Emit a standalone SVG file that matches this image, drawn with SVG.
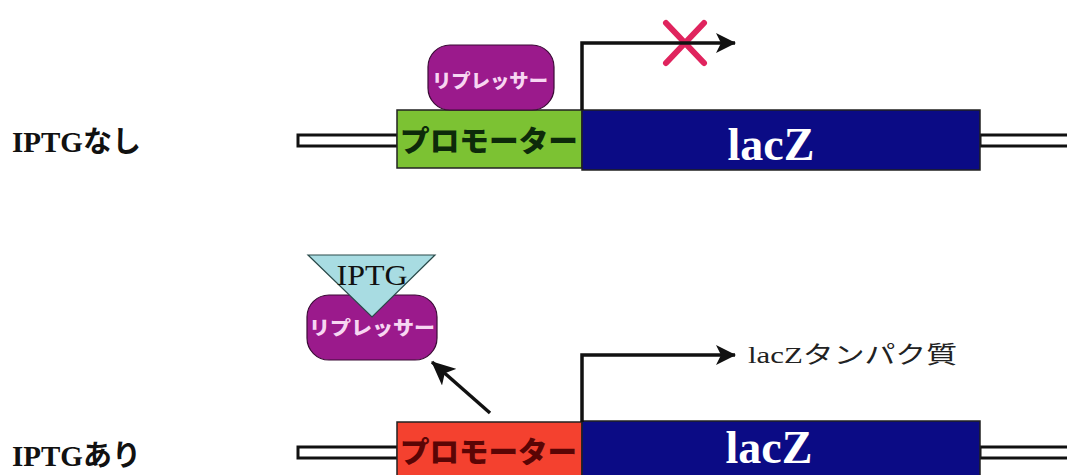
<svg xmlns="http://www.w3.org/2000/svg" width="1067" height="475" viewBox="0 0 1067 475">
<defs>
<style>
.lbl{font-family:"Liberation Serif","Noto Sans CJK JP",serif;font-weight:bold;font-size:29px;fill:#111}
.dna{fill:#fff;stroke:#111;stroke-width:3}
.box{stroke:#222;stroke-width:1.5}
.prom{font-family:"Noto Sans CJK JP",sans-serif;font-weight:900;font-size:29px}
.lacz{font-family:"Liberation Serif",serif;font-weight:bold;font-size:46px;fill:#fff;text-anchor:middle}
.rep{fill:#9b1a8c;stroke:#3a0a35;stroke-width:1.2}
.reptxt{font-family:"Noto Sans CJK JP",sans-serif;font-weight:900;font-size:19px;fill:#f7d6f2}
.conn{fill:none;stroke:#111;stroke-width:3.5}
</style>
<marker id="ah" viewBox="0 0 20 20" refX="19" refY="10" markerWidth="20" markerHeight="20" markerUnits="userSpaceOnUse" orient="auto">
<path d="M0,0 L20,10 L0,20 L5,10 Z" fill="#111"/>
</marker>
<marker id="ah2" viewBox="0 0 24 22" refX="23" refY="11" markerWidth="24" markerHeight="22" markerUnits="userSpaceOnUse" orient="auto">
<path d="M0,0 L24,11 L0,22 L6,11 Z" fill="#111"/>
</marker>
</defs>
<rect width="1067" height="475" fill="#fff"/>

<g id="label-top"><text class="lbl" x="12" y="152">IPTGなし</text></g>
<g id="label-bottom"><text class="lbl" x="12" y="466">IPTGあり</text></g>

<g id="dna-top">
<rect class="dna" x="298" y="135" width="100" height="11"/>
<rect class="dna" x="980" y="135" width="95" height="11"/>
</g>
<g id="promoter-top">
<rect class="box" x="397" y="110" width="185" height="58" fill="#7cc233"/>
<text class="prom" x="400" y="152" fill="#0d2a0a" textLength="178" lengthAdjust="spacingAndGlyphs">プロモーター</text>
</g>
<g id="lacz-top">
<rect class="box" x="582" y="110" width="398" height="60" fill="#0b0b85"/>
<text class="lacz" x="771" y="160">lacZ</text>
</g>
<g id="repressor-top">
<rect class="rep" x="428" y="45" width="126" height="65" rx="22"/>
<text class="reptxt" x="432" y="88" textLength="116" lengthAdjust="spacingAndGlyphs">リプレッサー</text>
</g>
<g id="block-x">
<path d="M666,23 L704,63 M704,23 L666,63" stroke="#e0245e" stroke-width="6" stroke-linecap="round"/>
</g>

<g id="dna-bottom">
<rect class="dna" x="298" y="447" width="100" height="11"/>
<rect class="dna" x="980" y="447" width="95" height="11"/>
</g>
<g id="promoter-bottom">
<rect class="box" x="397" y="422" width="185" height="60" fill="#f4412f"/>
<text class="prom" x="400" y="463" fill="#5a0505" textLength="177" lengthAdjust="spacingAndGlyphs">プロモーター</text>
</g>
<g id="lacz-bottom">
<rect class="box" x="582" y="421" width="398" height="60" fill="#0b0b85"/>
<text class="lacz" x="769" y="463">lacZ</text>
</g>
<g id="repressor-bottom">
<rect class="rep" x="307" y="295" width="130" height="65" rx="22"/>
<text class="reptxt" x="309" y="335" textLength="126" lengthAdjust="spacingAndGlyphs">リプレッサー</text>
</g>
<g id="iptg">
<path d="M308,255 L435,255 L372,317 Z" fill="#a8dce2" stroke="#2a4a4a" stroke-width="1.2"/>
<text x="372" y="285" text-anchor="middle" font-family="Liberation Serif,serif" font-size="30" fill="#111" textLength="71" lengthAdjust="spacingAndGlyphs">IPTG</text>
</g>
<g id="protein-label">
<text x="748" y="363" font-family="Liberation Serif,'Noto Sans CJK JP',serif" font-size="24" fill="#222" textLength="209" lengthAdjust="spacingAndGlyphs">lacZタンパク質</text>
</g>

<g id="connectors">
<path class="conn" d="M582,110 L582,43 L735,43" marker-end="url(#ah)"/>
<path class="conn" d="M582,422 L582,355 L735,355" marker-end="url(#ah)"/>
<path class="conn" d="M490,413 L432,362" stroke-width="4.5" marker-end="url(#ah2)"/>
</g>
</svg>
